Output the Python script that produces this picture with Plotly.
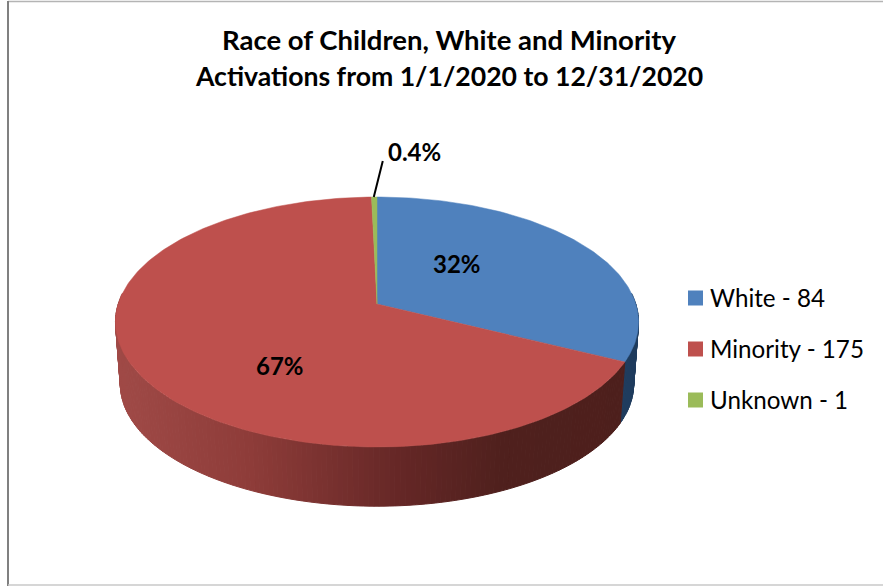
import numpy as np
import plotly.graph_objects as go

# Chart content
title_lines = ["Race of Children, White and Minority",
               "Activations from 1/1/2020 to 12/31/2020"]
categories = ["White", "Minority", "Unknown"]
counts = [84, 175, 1]
percent_labels = ["32%", "67%", "0.4%"]
top_colors = ["#4f81bd", "#be504d", "#9bbb59"]
wall_colors = ["#1f3c5e", None, "#4f6030"]

# Wall shading of the red slice runs left to right across the page
shade_x = [115, 250, 400, 500, 640]
shade_rgb = [(160, 74, 71), (142, 60, 57), (101, 39, 38), (79, 32, 29), (77, 31, 28)]

# Perspective disc: the far rim is foreshortened compared with the near rim
W, H = 883, 586
CX = 377.0
TOP_Y, TOP_R, TOP_S = 304.0, 258.8, 122.4
BASE_Y, BASE_R, BASE_S = 366.6, 254.0, 119.5
PERSP = 0.144
FONT = "Lato"


def project(theta, y0, r, s, radius=1.0):
    """Map an angle (clockwise from 12 o'clock) on a disc to page coordinates."""
    u = radius * np.sin(theta)
    v = radius * np.cos(theta)
    d = 1 + PERSP * v
    return CX + r * u / d, y0 - s * v / d


def hexa(rgb):
    return "#%02x%02x%02x" % tuple(int(round(c)) for c in rgb)


def red_shade(x):
    return hexa([np.interp(x, shade_x, [c[i] for c in shade_rgb]) for i in range(3)])


fractions = np.array(counts) / sum(counts)
edges = np.concatenate([[0], np.cumsum(fractions)]) * 2 * np.pi

fig = go.Figure()


def polygon(xs, ys, color):
    fig.add_trace(go.Scatter(x=xs, y=ys, mode="lines", fill="toself", fillcolor=color,
                             line=dict(color=color, width=1), hoverinfo="skip",
                             showlegend=False))


# Side wall, only the part facing the viewer
for i in range(len(counts)):
    start, end = max(edges[i], np.radians(85)), min(edges[i + 1], np.radians(275))
    if end <= start:
        continue
    steps = np.linspace(start, end, max(2, int(np.degrees(end - start)) + 1))
    for a, b in zip(steps[:-1], steps[1:]):
        seg = np.array([a, b])
        xt, yt = project(seg, TOP_Y, TOP_R, TOP_S)
        xb, yb = project(seg[::-1], BASE_Y, BASE_R, BASE_S)
        color = wall_colors[i] or red_shade((xt.mean() + xb.mean()) / 2)
        polygon(np.r_[xt, xb, xt[0]], np.r_[yt, yb, yt[0]], color)

# Top face of each slice
for i, name in enumerate(categories):
    arc = np.linspace(edges[i], edges[i + 1], max(3, int(np.degrees(edges[i + 1] - edges[i])) + 1))
    xs, ys = project(arc, TOP_Y, TOP_R, TOP_S)
    fig.add_trace(go.Scatter(x=np.r_[CX, xs, CX], y=np.r_[TOP_Y, ys, TOP_Y], mode="lines",
                             fill="toself", fillcolor=top_colors[i],
                             line=dict(color=top_colors[i], width=0.5),
                             name=name, text=[f"{name}: {counts[i]}"] * (len(xs) + 2),
                             hoverinfo="text", showlegend=False))

# Leader line for the smallest slice
mid = (edges[2] + edges[3]) / 2
lx, ly = project(np.array([mid]), TOP_Y, TOP_R, TOP_S)
leader_x = [lx[0] - 0.5, lx[0] + 8.5]
leader_y = [ly[0], ly[0] - 36]
fig.add_trace(go.Scatter(x=leader_x, y=leader_y, mode="lines",
                         line=dict(color="#000000", width=2), hoverinfo="skip",
                         showlegend=False))

annotations = []


def put_text(x, y, text, size, bold=False, anchor="center"):
    annotations.append(dict(x=x, y=y, xref="x", yref="y", text=f"<b>{text}</b>" if bold else text,
                            showarrow=False, xanchor=anchor, yanchor="middle",
                            font=dict(family=FONT, size=size, color="#000000")))


# Title
put_text(449, 39, title_lines[0], 27.5, bold=True)
put_text(449, 76, title_lines[1], 26.6, bold=True)

# Percentage labels
put_text(457, 263, percent_labels[0], 24, bold=True)
put_text(280, 365, percent_labels[1], 24, bold=True)
put_text(414, 151, percent_labels[2], 24, bold=True)

# Legend on the right
legend_y = [298, 349, 400]
fig.add_trace(go.Scatter(x=[695.5] * 3, y=legend_y, mode="markers",
                         marker=dict(symbol="square", size=15, color=top_colors, line=dict(width=0)),
                         hoverinfo="skip", showlegend=False))
for y, name, n in zip(legend_y, categories, counts):
    put_text(707.5, y - 1, f"{name} - {n}", 24.2, anchor="left")

# Frame of the chart area
frame = [
    dict(type="line", x0=8, x1=883, y0=1.5, y1=1.5, line=dict(color="#b4b4b4", width=1.5)),
    dict(type="line", x0=8, x1=8, y0=1, y1=586, line=dict(color="#808080", width=2)),
    dict(type="line", x0=8, x1=883, y0=585, y1=585, line=dict(color="#c8c8c8", width=1.5)),
]

fig.update_layout(
    width=W, height=H, margin=dict(l=0, r=0, t=0, b=0),
    paper_bgcolor="#ffffff", plot_bgcolor="#ffffff", showlegend=False,
    xaxis=dict(range=[0, W], visible=False, fixedrange=True),
    yaxis=dict(range=[H, 0], visible=False, fixedrange=True),
    annotations=annotations, shapes=frame,
)

fig.write_html("out.html", config=dict(displayModeBar=False))
